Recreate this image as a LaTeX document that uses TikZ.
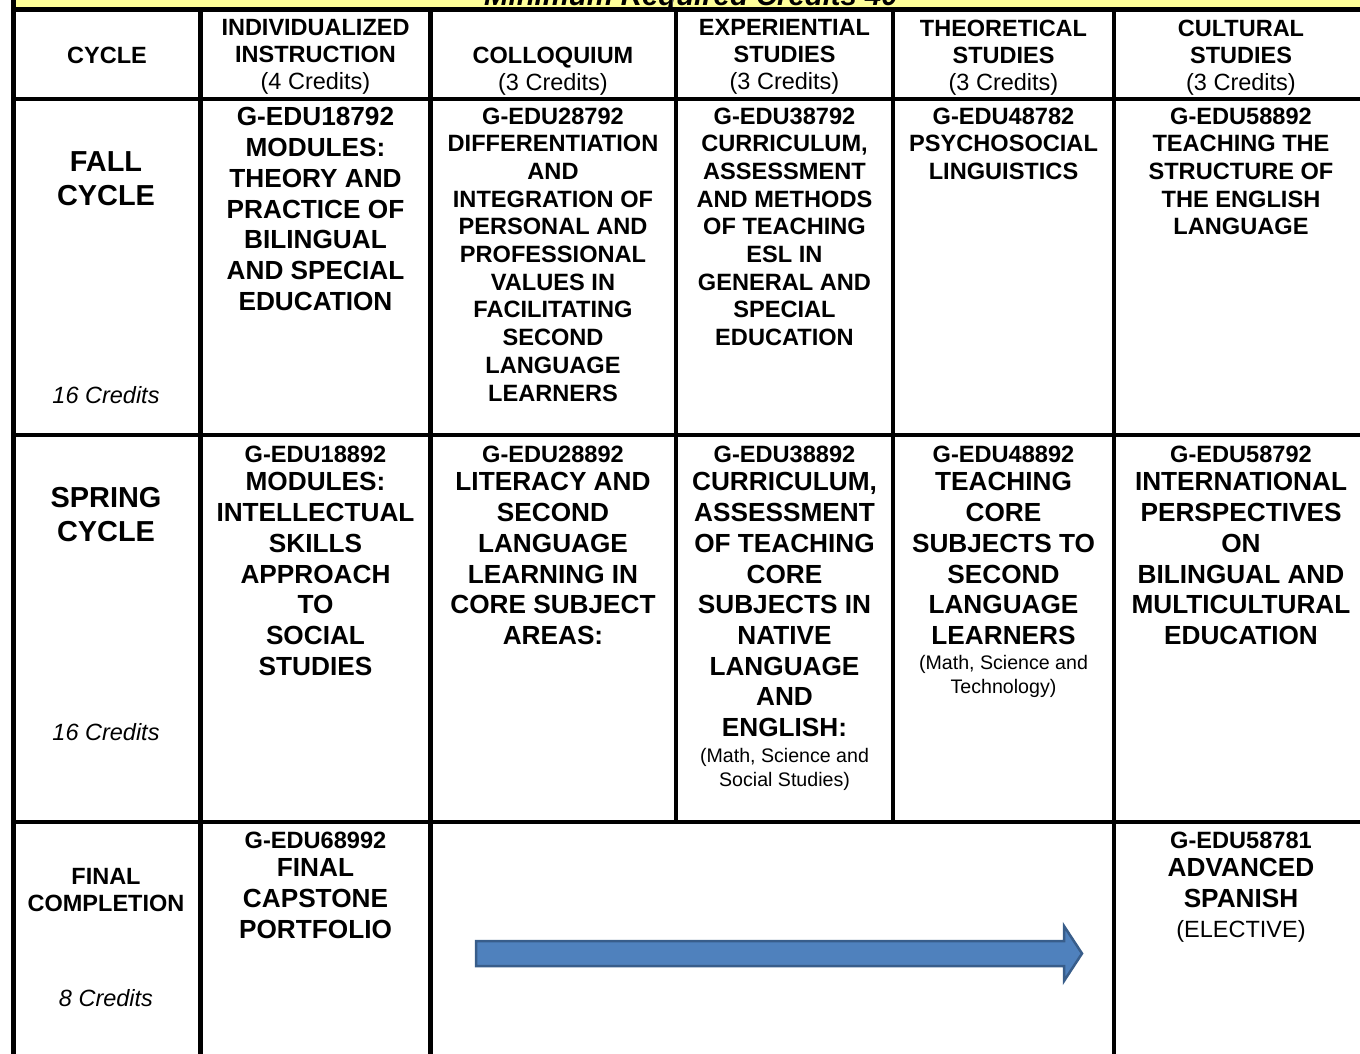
\documentclass[tikz,border=0pt]{standalone}
\usepackage{fontspec}
\setmainfont{Liberation Sans}
\definecolor{bandyellow}{HTML}{FFFF99}
\definecolor{arrowfill}{HTML}{4F81BD}
\definecolor{arrowedge}{HTML}{385D8A}
\begin{document}
\begin{tikzpicture}[x=1pt,y=-1pt,
  grid/.style={line width=4.5pt, black},
  hdr/.style={font=\fontsize{23.5}{27}\selectfont\bfseries, align=center, inner sep=0pt},
  lbl/.style={font=\fontsize{28.9}{34}\selectfont\bfseries, align=center, inner sep=0pt, anchor=north},
  cred/.style={font=\fontsize{23.5}{27}\selectfont\itshape, inner sep=0pt},
  bigtxt/.style={font=\fontsize{26.2}{30.7}\selectfont\bfseries, align=center, inner sep=0pt, anchor=north},
  smalltxt/.style={font=\fontsize{23.6}{27.7}\selectfont\bfseries, align=center, inner sep=0pt, anchor=north},
  code/.style={font=\fontsize{23.6}{27.7}\selectfont\bfseries, inner sep=0pt},
  note/.style={font=\fontsize{19.6}{24.5}\selectfont, align=center, inner sep=0pt, anchor=north},
  plain/.style={font=\fontsize{23.5}{27}\selectfont, inner sep=0pt, anchor=base},
  blockarrow/.style={fill=arrowfill, draw=arrowedge, line width=2.5pt, line join=miter}
]
\useasboundingbox (0,0) rectangle (1360,1053);
% title band
\fill[bandyellow] (15,-2) rectangle (1360,8);
\node[font=\fontsize{29.3}{34}\selectfont\bfseries\itshape, inner sep=0pt, anchor=base] (title) at (691,5) {Minimum Required Credits 40};
\draw[line width=0.8pt, black!70] (672,0) -- (672,8);
% grid
\draw[grid] (13.5,-2) -- (13.5,1060);
\draw[grid] (11.5,9.5) -- (1365,9.5);
\draw[grid] (11.5,99) -- (1365,99);
\draw[grid] (11.5,435) -- (1365,435);
\draw[grid] (11.5,822) -- (1365,822);
\draw[grid] (200.5,9.5) -- (200.5,1060);
\draw[grid] (430.5,9.5) -- (430.5,1060);
\draw[grid] (676,9.5) -- (676,822);
\draw[grid] (893,9.5) -- (893,822);
\draw[grid] (1114,9.5) -- (1114,1060);
% header row
\node[hdr] (hcycle) at (107,55) {CYCLE};
\node[hdr, anchor=north] (hind) at (315.5,19.4) {INDIVIDUALIZED\\INSTRUCTION\\\mdseries(4 Credits)};
\node[hdr, anchor=north] (hcoll) at (553,46.4) {COLLOQUIUM\\\mdseries(3 Credits)};
\node[hdr, anchor=north] (hexp) at (784.5,19.4) {EXPERIENTIAL\\STUDIES\\\mdseries(3 Credits)};
\node[hdr, anchor=north] (hthe) at (1003.5,19.4) {THEORETICAL\\STUDIES\\\mdseries(3 Credits)};
\node[hdr, anchor=north] (hcul) at (1241,19.4) {CULTURAL\\STUDIES\\\mdseries(3 Credits)};
% fall row
\node[lbl] (fall) at (106,151.3) {FALL\\CYCLE};
\node[cred] (fallcr) at (106,395) {16 Credits};
\node[bigtxt] (f1) at (315.5,107.4) {G-EDU18792\\MODULES:\\THEORY AND\\PRACTICE OF\\BILINGUAL\\AND SPECIAL\\EDUCATION};
\node[smalltxt] (f2) at (553,107.4) {G-EDU28792\\DIFFERENTIATION\\AND\\INTEGRATION OF\\PERSONAL AND\\PROFESSIONAL\\VALUES IN\\FACILITATING\\SECOND\\LANGUAGE\\LEARNERS};
\node[smalltxt] (f3) at (784.5,107.4) {G-EDU38792\\CURRICULUM,\\ASSESSMENT\\AND METHODS\\OF TEACHING\\ESL IN\\GENERAL AND\\SPECIAL\\EDUCATION};
\node[smalltxt] (f4) at (1003.5,107.4) {G-EDU48782\\PSYCHOSOCIAL\\LINGUISTICS};
\node[smalltxt] (f5) at (1241,107.4) {G-EDU58892\\TEACHING THE\\STRUCTURE OF\\THE ENGLISH\\LANGUAGE};
% spring row
\node[lbl] (spring) at (106,487.5) {SPRING\\CYCLE};
\node[cred] (springcr) at (106,732) {16 Credits};
\node[code] (s1code) at (315.5,454) {G-EDU18892};
\node[bigtxt] (s1) at (315.5,472.4) {MODULES:\\INTELLECTUAL\\SKILLS\\APPROACH\\TO\\SOCIAL\\STUDIES};
\node[code] (s2code) at (553,454) {G-EDU28892};
\node[bigtxt] (s2) at (553,472.4) {LITERACY AND\\SECOND\\LANGUAGE\\LEARNING IN\\CORE SUBJECT\\AREAS:};
\node[code] (s3code) at (784.5,454) {G-EDU38892};
\node[bigtxt] (s3) at (784.5,472.4) {CURRICULUM,\\ASSESSMENT\\OF TEACHING\\CORE\\SUBJECTS IN\\NATIVE\\LANGUAGE\\AND\\ENGLISH:};
\node[note] (s3note) at (784.5,747.7) {(Math, Science and\\Social Studies)};
\node[code] (s4code) at (1003.5,454) {G-EDU48892};
\node[bigtxt] (s4) at (1003.5,472.4) {TEACHING\\CORE\\SUBJECTS TO\\SECOND\\LANGUAGE\\LEARNERS};
\node[note] (s4note) at (1003.5,654.7) {(Math, Science and\\Technology)};
\node[code] (s5code) at (1241,454) {G-EDU58792};
\node[bigtxt] (s5) at (1241,472.4) {INTERNATIONAL\\PERSPECTIVES\\ON\\BILINGUAL AND\\MULTICULTURAL\\EDUCATION};
% final row
\node[hdr, anchor=north] (final) at (106,868.4) {FINAL\\COMPLETION};
\node[cred] (finalcr) at (106,998) {8 Credits};
\node[code] (c1code) at (315.5,840) {G-EDU68992};
\node[bigtxt] (c1) at (315.5,858.4) {FINAL\\CAPSTONE\\PORTFOLIO};
\node[code] (c5code) at (1241,840) {G-EDU58781};
\node[bigtxt] (c5) at (1241,858.4) {ADVANCED\\SPANISH};
\node[plain] (c5note) at (1241,937.5) {(ELECTIVE)};
% block arrow
\draw[blockarrow] (476,941) -- (1064,941) -- (1064,926) -- (1082,953.5) -- (1064,981) -- (1064,966) -- (476,966) -- cycle;
\end{tikzpicture}
\end{document}
